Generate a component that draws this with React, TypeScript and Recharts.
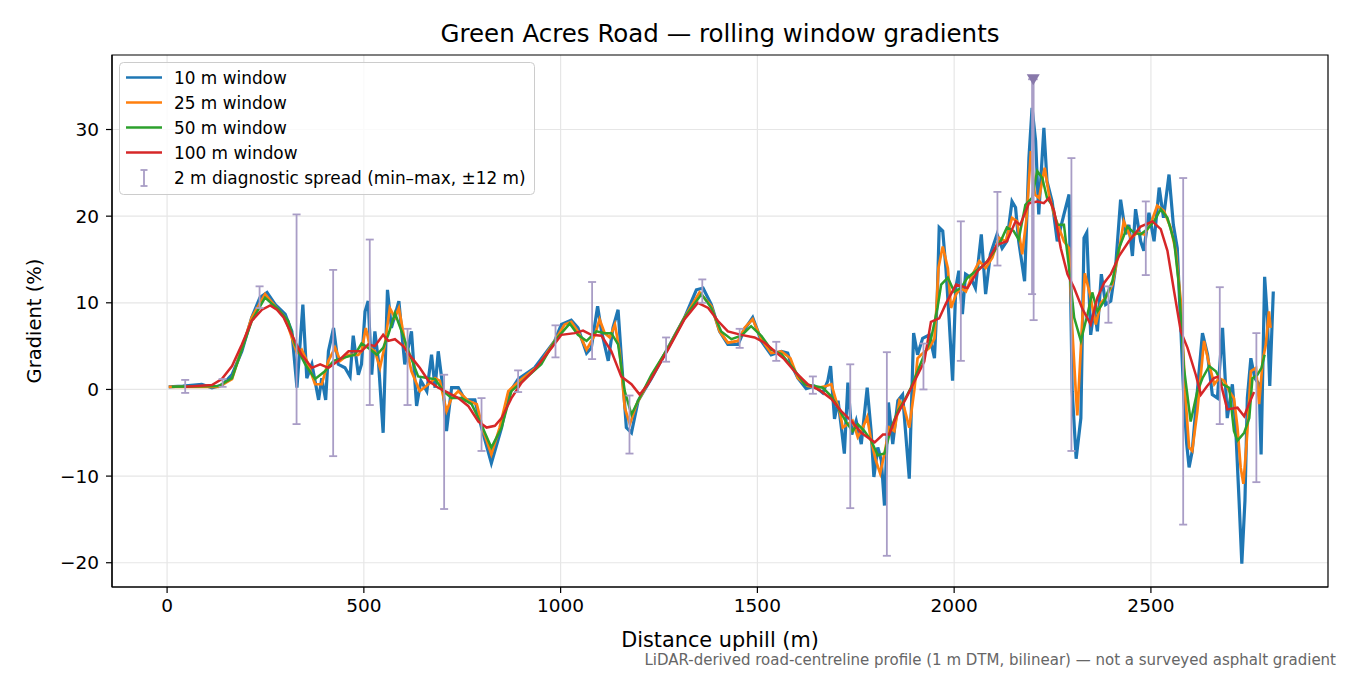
import React from "react";
import {
  ComposedChart,
  Line,
  Scatter,
  ErrorBar,
  XAxis,
  YAxis,
  CartesianGrid,
  ReferenceArea,
} from "recharts";

// distance uphill (m) / gradient (%)
const BLUE_M = [4, 40, 88, 114, 140, 165, 190, 215, 236, 254, 275, 300, 317, 330, 345, 355, 368, 385, 393, 403, 410, 423, 435, 452, 465, 473, 486, 494, 503, 511, 520, 528, 537, 549, 560, 570, 589, 604, 621, 634, 645, 660, 672, 681, 689, 702, 710, 723, 740, 757, 782, 799, 824, 850, 867, 892, 934, 985, 1002, 1027, 1044, 1066, 1078, 1094, 1104, 1121, 1133, 1146, 1159, 1167, 1180, 1197, 1231, 1273, 1315, 1345, 1362, 1383, 1404, 1425, 1451, 1467, 1488, 1510, 1535, 1561, 1577, 1586, 1603, 1624, 1645, 1666, 1679, 1686, 1696, 1705, 1715, 1721, 1730, 1740, 1751, 1764, 1779, 1789, 1796, 1806, 1815, 1823, 1833, 1844, 1857, 1869, 1886, 1897, 1907, 1920, 1937, 1950, 1957, 1962, 1971, 1979, 1987, 1996, 2004, 2012, 2021, 2029, 2042, 2054, 2069, 2080, 2092, 2109, 2122, 2134, 2147, 2156, 2164, 2179, 2190, 2198, 2207, 2215, 2228, 2236, 2249, 2262, 2279, 2292, 2300, 2310, 2322, 2330, 2337, 2347, 2356, 2364, 2374, 2385, 2398, 2410, 2423, 2436, 2444, 2453, 2461, 2474, 2482, 2495, 2508, 2521, 2532, 2546, 2557, 2567, 2576, 2584, 2591, 2597, 2605, 2618, 2631, 2644, 2656, 2669, 2682, 2694, 2707, 2715, 2724, 2731, 2739, 2745, 2754, 2764, 2775, 2780, 2789, 2796, 2802, 2811];
const BLUE_V = [0.3, 0.4, 0.6, 0.2, 0.5, 1.7, 4.4, 8.3, 10.6, 11.2, 9.8, 8.7, 6.7, 0.2, 9.8, 1.3, 2.9, -1.2, 1.3, -1.2, 4.4, 7.1, 2.9, 2.5, 1.5, 6.2, 1.7, 2.9, 9, 10.2, 1.7, 6.7, 3.3, -5, 11.5, 7.1, 10.2, 2.9, 6.7, -1.9, 1, -0.2, 4, 0.2, 4.4, -0.2, -4.8, 0.2, 0.2, -1.2, -1.2, -4.4, -8.5, -4.4, -0.6, 1.2, 2.5, 5.6, 7.5, 8.0, 7.1, 4.2, 4.8, 9.6, 6.7, 3.3, 7.1, 9.2, 0.6, -4.4, -5, -1.3, 1.3, 4.8, 8.3, 11.5, 11.7, 9.8, 6.7, 5.2, 5.2, 6.9, 8.3, 5.6, 4, 4.4, 4.2, 2.9, 1.3, 0.1, 0.4, -0.4, 1, 2.7, -3.4, -1.3, -5, -7.4, 0.8, -5.2, -3.6, -6.3, 0.2, -4.8, -10.1, -6.7, -8.2, -13.4, -1.5, -6.3, -1.3, -0.6, -10.3, 6.5, 4, 5.9, 6.3, 3.6, 10.5, 18.7, 18.3, 14, 8.3, 1, 11.7, 13.7, 8.7, 13.3, 12.9, 11.7, 17.9, 11, 15.6, 17.9, 16.3, 17.1, 21.7, 21, 17.1, 12.5, 26.7, 32.5, 28.7, 20.2, 30.2, 24, 21.7, 17.1, 20.2, 22.5, -0.2, -8, -3.3, 17.5, 18.1, 6.3, 9.4, 6.7, 13.3, 9.8, 10.2, 14, 21.9, 17.9, 19, 15.4, 20.8, 17.1, 16, 20.4, 17.1, 23.3, 19.8, 24.8, 19, 16.3, 7, -1.3, -6.3, -9, -7.1, -0.2, 6.5, 4, -0.6, -1, 7.1, -3.3, 0.6, -4, -12.8, -20.1, -12.8, -1, 3.6, 1.3, 0.6, -7.5, 13, 8.2, 0.4, 11.3];

const ORANGE_M = [4, 131, 165, 215, 249, 275, 300, 317, 330, 342, 355, 376, 393, 410, 427, 440, 460, 486, 494, 505, 516, 528, 541, 552, 566, 579, 589, 604, 621, 642, 664, 681, 693, 710, 723, 740, 765, 787, 804, 824, 845, 867, 901, 943, 985, 1010, 1027, 1044, 1066, 1087, 1099, 1112, 1125, 1138, 1150, 1163, 1176, 1193, 1231, 1273, 1315, 1353, 1383, 1404, 1425, 1451, 1467, 1488, 1510, 1535, 1561, 1584, 1603, 1628, 1654, 1675, 1688, 1700, 1709, 1717, 1730, 1742, 1755, 1768, 1779, 1789, 1801, 1812, 1823, 1835, 1848, 1861, 1873, 1886, 1899, 1907, 1916, 1937, 1950, 1955, 1960, 1971, 1984, 1992, 2005, 2017, 2030, 2047, 2064, 2080, 2097, 2114, 2131, 2147, 2160, 2173, 2184, 2195, 2205, 2216, 2230, 2241, 2254, 2266, 2279, 2292, 2300, 2309, 2313, 2322, 2332, 2345, 2360, 2373, 2385, 2402, 2419, 2431, 2449, 2466, 2483, 2500, 2516, 2533, 2550, 2563, 2576, 2588, 2597, 2605, 2618, 2635, 2648, 2661, 2673, 2686, 2699, 2711, 2720, 2728, 2735, 2743, 2754, 2767, 2775, 2784, 2792, 2800, 2804];
const ORANGE_V = [0.3, 0.3, 1.2, 8.3, 11, 9.6, 8.3, 6, 4.2, 4.6, 3.3, 0.6, 0.6, 3.3, 4.8, 3.3, 4, 4, 4.4, 7.1, 4.8, 4.4, 2.5, 4.8, 9.4, 8.3, 9.4, 5.6, 2.1, -0.2, 0.6, 1.3, 1, -2.5, -1, -0.2, -1.3, -1.7, -4.8, -7.5, -4.4, -0.2, 1.2, 2.7, 5.6, 7.5, 7.8, 6.7, 4.6, 6.3, 8.1, 6.5, 6, 7.5, 4.4, -2.1, -4, -1.7, 1.5, 4.8, 8.3, 11.2, 9.6, 6.7, 5.4, 5.6, 7.1, 8.1, 5.8, 4.2, 4.4, 3.6, 1.3, 0.4, 0.2, 0.4, 0.6, -1.3, -2.5, -4.4, -4, -3.6, -5.5, -4.4, -3.2, -5.9, -8.2, -9.7, -7.4, -4.4, -4.8, -1.3, -2.1, -4.4, 0, 3.6, 4, 4.8, 5.9, 9.4, 14, 16.5, 14, 9.4, 11, 11.7, 11.3, 13.3, 14.8, 14, 15.2, 17.5, 17.1, 19.8, 19.4, 15.6, 19.8, 27.5, 22.5, 22.1, 25.6, 22.5, 20.2, 18.7, 17.1, 16.3, 7.1, -0.2, -3, 4.8, 13.4, 11, 7.5, 10, 10.6, 12.1, 16, 19.4, 17.5, 18.1, 17.9, 19.2, 21.2, 20.6, 18.7, 16, 10.2, -1, -6.7, -7.1, -2.5, 5.6, 2.9, 0.6, 1.3, 1, -0.2, -1, -4.4, -9, -10.9, -6.3, 2.1, 2.5, -1.7, 3.3, 5.2, 9, 7.1];

const GREEN_M = [12, 131, 165, 215, 249, 283, 308, 325, 351, 376, 401, 423, 452, 477, 494, 511, 533, 549, 562, 579, 596, 617, 638, 664, 681, 702, 723, 748, 774, 795, 824, 850, 875, 909, 951, 985, 1023, 1044, 1066, 1091, 1112, 1129, 1146, 1163, 1180, 1197, 1231, 1273, 1315, 1358, 1383, 1408, 1434, 1459, 1484, 1510, 1535, 1561, 1590, 1620, 1645, 1666, 1688, 1705, 1726, 1742, 1755, 1772, 1789, 1806, 1823, 1840, 1857, 1873, 1890, 1907, 1924, 1941, 1958, 1967, 1984, 2000, 2017, 2034, 2056, 2077, 2097, 2118, 2134, 2151, 2164, 2181, 2198, 2211, 2224, 2236, 2249, 2262, 2279, 2292, 2305, 2322, 2339, 2351, 2364, 2381, 2402, 2419, 2440, 2457, 2474, 2491, 2508, 2525, 2542, 2559, 2571, 2584, 2601, 2618, 2631, 2648, 2665, 2682, 2699, 2711, 2720, 2737, 2750, 2758, 2771, 2781, 2789];
const GREEN_V = [0.3, 0.4, 1.3, 7.9, 10.6, 9.2, 7.9, 5.2, 2.9, 1.2, 2.1, 3.3, 3.7, 4, 5.3, 4.8, 4, 4.8, 6.3, 8.8, 6.7, 4, 1.5, 1.3, 1.2, -0.2, -1, -1, -1.7, -3.7, -6.7, -4.4, -0.2, 1.2, 2.9, 5.6, 7.6, 6.3, 5.6, 6.7, 6.5, 6.5, 5.2, -0.2, -2.9, -1.3, 1.7, 4.8, 8.3, 11, 9.4, 6.7, 5.8, 6.2, 7.3, 6.2, 4.6, 4.1, 2.5, 0.6, 0.4, 0.2, -0.8, -2.1, -3.8, -4.8, -4, -4.8, -5.9, -7.6, -7.4, -4.4, -2.5, -1.3, 0.2, 2.1, 4, 5.8, 9.5, 12.1, 12.9, 11.3, 11.7, 12.9, 13.7, 14.4, 15.6, 17.1, 18.7, 18.3, 17.3, 21.3, 22.1, 25.2, 24.4, 22.1, 21.3, 19, 19, 14, 8.3, 5.6, 8.7, 11.2, 9, 10.2, 12.5, 16.3, 18.8, 18.1, 17.9, 18.5, 19.4, 20.8, 19.8, 17.1, 12.1, 2.5, -3.7, -0.2, 1.3, 2.7, 2.1, 0.6, 0.2, -4.8, -5.9, -5, -3.3, 1.3, 1.7, 2.5, 4];

const RED_M = [46, 114, 139, 165, 190, 215, 241, 262, 279, 296, 317, 342, 368, 389, 410, 435, 461, 494, 511, 528, 549, 562, 579, 600, 621, 642, 664, 689, 715, 740, 765, 791, 812, 833, 850, 875, 901, 934, 977, 1002, 1036, 1057, 1078, 1104, 1129, 1154, 1180, 1201, 1222, 1273, 1315, 1349, 1375, 1400, 1425, 1459, 1493, 1518, 1544, 1566, 1594, 1628, 1662, 1688, 1713, 1738, 1764, 1798, 1819, 1835, 1852, 1878, 1903, 1924, 1941, 1962, 1979, 2005, 2034, 2060, 2085, 2109, 2134, 2156, 2168, 2190, 2211, 2228, 2241, 2254, 2271, 2288, 2305, 2325, 2347, 2364, 2381, 2398, 2419, 2444, 2474, 2504, 2525, 2542, 2559, 2576, 2593, 2614, 2627, 2643, 2660, 2673, 2694, 2720, 2737, 2750, 2762];
const RED_V = [0.3, 0.5, 1.2, 2.7, 5.2, 7.9, 9.2, 9.7, 9.2, 8.3, 6.3, 4, 2.5, 2.9, 2.5, 3.3, 4.4, 4.4, 5.2, 5, 6.3, 5.6, 5.8, 5, 3.7, 2.5, 1, 0.2, -0.4, -1, -1.9, -3.7, -4.4, -4.2, -3.3, -1, 0.8, 2.3, 4.8, 6.3, 6.5, 6.8, 6.3, 6.2, 4.4, 1.5, 0.6, -0.6, 0.6, 4.6, 8.1, 10, 9.4, 7.9, 6.7, 6.3, 6, 5.4, 4.4, 3.6, 2.1, 0.6, -0.2, -1.1, -2.5, -3.6, -5, -6.1, -5.2, -5.2, -3.2, -1, 1.3, 3.2, 7.8, 8.2, 9.9, 12.1, 11.7, 13.7, 14.8, 16.7, 17.1, 19.4, 19, 21.5, 21.7, 21.5, 22.1, 20.6, 16.3, 13.3, 11.7, 9.4, 7.5, 10.6, 12.3, 13.3, 15.4, 17.1, 18.8, 19.4, 18.5, 16, 11.3, 6.7, 4.8, 1.7, -0.6, 0.4, 1.3, 1.5, -2.3, -2.1, -3.1, -1.6, -0.3];

// 2 m diagnostic spread, min and max within +-12 m
const ERR_M = [46, 141, 235, 329, 422, 515, 611, 704, 799, 892, 987, 1080, 1175, 1268, 1360, 1455, 1548, 1641, 1736, 1829, 1922, 2017, 2110, 2198, 2202, 2298, 2392, 2487, 2582, 2675, 2768];
const ERR_LO = [-0.4, 0.3, 9.4, -4.0, -7.7, -1.8, -1.8, -13.8, -7.1, -0.3, 3.7, 3.5, -7.4, 3.2, 10.0, 4.8, 3.3, -0.5, -13.7, -19.2, 0.0, 3.3, 14.3, 11.0, 8.0, -7.1, 7.7, 13.2, -15.6, -4.0, -10.7];
const ERR_HI = [1.1, 1.2, 11.9, 20.2, 13.8, 17.3, 7.0, 1.7, -1.0, 2.2, 7.4, 12.4, -0.7, 6.0, 12.7, 7.0, 5.5, 1.5, 2.9, 4.3, 5.3, 19.4, 22.8, 35.8, 35.8, 26.7, 11.9, 21.7, 24.4, 11.8, 6.5];

const PEAK_M = [2201];
const PEAK_V = [35.8];

const X_TICKS = [0, 500, 1000, 1500, 2000, 2500];
const Y_TICKS = [-20, -10, 0, 10, 20, 30];
const X_DOMAIN = [-140, 2950];
const Y_DOMAIN = [-22.8, 38.6];

const SERIES = [
  { name: "10 m window", color: "#1f77b4", width: 3.2, m: BLUE_M, v: BLUE_V },
  { name: "25 m window", color: "#ff7f0e", width: 2.7, m: ORANGE_M, v: ORANGE_V },
  { name: "50 m window", color: "#2ca02c", width: 2.5, m: GREEN_M, v: GREEN_V },
  { name: "100 m window", color: "#d62728", width: 2.5, m: RED_M, v: RED_V },
];

const ERR_COLOR = "#a99dc6";
const FONT = "DejaVu Sans, sans-serif";

const toRows = (m: number[], v: number[]) => m.map((x, i) => ({ m: x, v: v[i] }));

// scatter points sit at the middle of each spread, the error bar reaches min and max
const errRows = ERR_M.map((x, i) => ({
  m: x,
  v: (ERR_LO[i] + ERR_HI[i]) / 2,
  e: (ERR_HI[i] - ERR_LO[i]) / 2,
}));

const peakRows = PEAK_M.map((x, i) => ({ m: x, v: PEAK_V[i] }));

const minus = (t: number) => String(t).replace("-", "\u2212");

function Triangle(props: any) {
  const { cx, cy } = props;
  if (cx == null || cy == null) return null;
  return (
    <polygon
      points={`${cx - 6.5},${cy - 5} ${cx + 6.5},${cy - 5} ${cx},${cy + 6}`}
      fill="#8878aa"
    />
  );
}

export default function App() {
  const tick = { fontSize: 18.5, fill: "#000", fontFamily: FONT };
  return (
    <div style={{ position: "absolute", left: 0, top: 0, width: 1350, height: 675, background: "#fff" }}>
      <ComposedChart width={1350} height={675} margin={{ top: 55, right: 22, bottom: 48, left: 52 }}>
        <CartesianGrid stroke="#e6e6e6" strokeWidth={1.2} horizontalValues={Y_TICKS} verticalValues={X_TICKS} />
        <XAxis
          type="number"
          dataKey="m"
          domain={X_DOMAIN}
          ticks={X_TICKS}
          allowDataOverflow
          height={40}
          tick={tick}
          tickSize={6}
          tickMargin={6}
          stroke="#000"
          tickLine={{ stroke: "#000", strokeWidth: 1.2 }}
          axisLine={{ stroke: "#000", strokeWidth: 1.2 }}
        />
        <YAxis
          type="number"
          dataKey="v"
          domain={Y_DOMAIN}
          ticks={Y_TICKS}
          allowDataOverflow
          width={60}
          tick={tick}
          tickSize={6}
          tickMargin={7}
          tickFormatter={minus}
          tickLine={{ stroke: "#000", strokeWidth: 1.2 }}
          axisLine={{ stroke: "#000", strokeWidth: 1.2 }}
        />
        {SERIES.map((s) => (
          <Line
            key={s.name}
            data={toRows(s.m, s.v)}
            dataKey="v"
            type="linear"
            stroke={s.color}
            strokeWidth={s.width}
            dot={false}
            activeDot={false}
            isAnimationActive={false}
          />
        ))}
        <Scatter data={errRows} dataKey="v" shape={() => <g />} isAnimationActive={false}>
          <ErrorBar dataKey="e" direction="y" width={4} stroke={ERR_COLOR} strokeWidth={1.8} />
        </Scatter>
        <Scatter data={peakRows} dataKey="v" shape={<Triangle />} isAnimationActive={false} />
        <ReferenceArea
          x1={X_DOMAIN[0]}
          x2={X_DOMAIN[1]}
          y1={Y_DOMAIN[0]}
          y2={Y_DOMAIN[1]}
          fill="none"
          stroke="#000"
          strokeWidth={1.2}
          ifOverflow="visible"
        />
      </ComposedChart>

      <svg
        width={1350}
        height={675}
        style={{ position: "absolute", left: 0, top: 0, pointerEvents: "none" }}
        fontFamily={FONT}
      >
        <text x={720} y={42} textAnchor="middle" fontSize={24.5}>
          Green Acres Road — rolling window gradients
        </text>
        <text transform="translate(41,321) rotate(-90)" textAnchor="middle" fontSize={19.5}>
          Gradient (%)
        </text>
        <text x={720} y={647} textAnchor="middle" fontSize={20.8}>
          Distance uphill (m)
        </text>
        <text x={1336} y={665} textAnchor="end" fontSize={15}>
          <tspan fill="#666">LiDAR-derived road-centreline profile (1 m DTM, bilinear) — not a surveyed asphalt gradient</tspan>
        </text>

        <rect x={119.5} y={62.5} width={415} height={132} rx={4} fill="#fff" fillOpacity={0.8} stroke="#ccc" />
        {SERIES.map((s, i) => {
          const y = 77.5 + i * 25;
          return (
            <g key={s.name}>
              <line x1={126} x2={162} y1={y} y2={y} stroke={s.color} strokeWidth={2.6} />
              <text x={174} y={y + 6} fontSize={16.9}>
                {s.name}
              </text>
            </g>
          );
        })}
        <g stroke={ERR_COLOR} strokeWidth={1.8}>
          <line x1={144} x2={144} y1={170} y2={186} />
          <line x1={140.5} x2={147.5} y1={170} y2={170} />
          <line x1={140.5} x2={147.5} y1={186} y2={186} />
        </g>
        <text x={174} y={183.5} fontSize={16.9}>
          2 m diagnostic spread (min–max, ±12 m)
        </text>
      </svg>
    </div>
  );
}
